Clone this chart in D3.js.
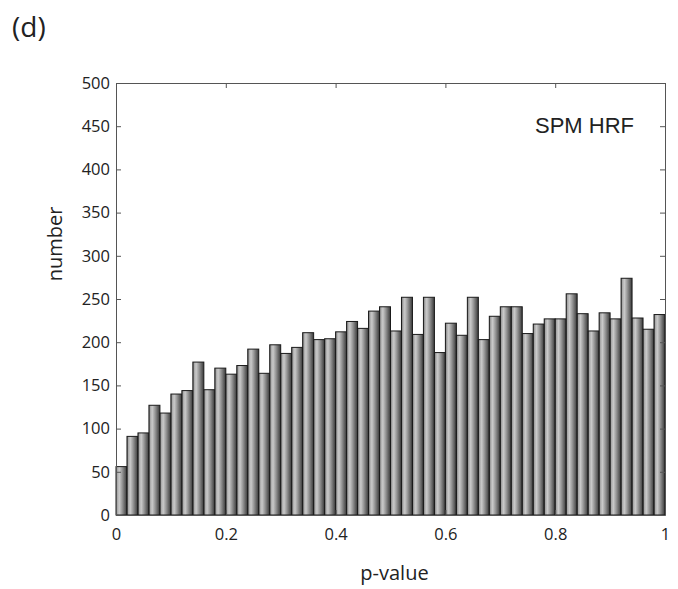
<!DOCTYPE html>
<html>
<head>
<meta charset="utf-8">
<script src="https://cdn.jsdelivr.net/npm/d3@7"></script>
<style>
  html, body { margin: 0; padding: 0; background: #fff; }
  svg { display: block; }
  text { font-family: "Open Sans", "Noto Sans", sans-serif; fill: #222; }
</style>
</head>
<body>
<script>
const binWidth = 0.02;
const binStarts = d3.range(50).map(i => +(i * binWidth).toFixed(2));
const counts = [56,91,95,127,118,140,144,177,145,170,163,173,192,164,197,187,194,211,203,204,212,224,216,236,241,213,252,209,252,188,222,208,252,203,230,241,241,210,221,227,227,256,233,213,234,227,274,228,215,232];
const xTicks = [0, 0.2, 0.4, 0.6, 0.8, 1];
const yTicks = [0,50,100,150,200,250,300,350,400,450,500];
const panelLabel = "(d)";
const legendText = "SPM HRF";
const xLabel = "p-value";
const yLabel = "number";

const W = 678, H = 589;
const svg = d3.select("body").append("svg").attr("width", W).attr("height", H);

const x = d3.scaleLinear().domain([0, 1]).range([116, 665]);
const y = d3.scaleLinear().domain([0, 500]).range([515, 83]);

const defs = svg.append("defs");
const grad = defs.append("linearGradient").attr("id", "barGrad")
  .attr("x1", "0%").attr("x2", "100%").attr("y1", "0%").attr("y2", "0%");
[["0%", "#555"], ["12%", "#a8a8a8"], ["30%", "#cacaca"], ["55%", "#999"], ["100%", "#383838"]]
  .forEach(([o, c]) => grad.append("stop").attr("offset", o).attr("stop-color", c));

svg.append("g").selectAll("rect").data(counts).join("rect")
  .attr("x", (d, i) => x(binStarts[i]))
  .attr("width", (d, i) => x(binStarts[i] + binWidth) - x(binStarts[i]))
  .attr("y", d => y(d))
  .attr("height", d => y(0) - y(d))
  .attr("fill", "url(#barGrad)")
  .attr("stroke", "#1a1a1a")
  .attr("stroke-width", 1);

const axisColor = "#555";
function styleAxis(g) {
  g.selectAll(".domain").attr("stroke", axisColor);
  g.selectAll(".tick line").attr("stroke", axisColor);
  g.selectAll(".tick text").style("font-size", "16.5px").attr("fill", "#222");
}

// left axis
svg.append("g").attr("transform", `translate(${x(0)},0)`)
  .call(d3.axisLeft(y).tickValues(yTicks).tickFormat(d3.format("d")).tickSizeInner(-5).tickSizeOuter(0).tickPadding(6))
  .call(styleAxis);
// right axis
svg.append("g").attr("transform", `translate(${x(1)},0)`)
  .call(d3.axisRight(y).tickValues(yTicks).tickFormat("").tickSizeInner(-5).tickSizeOuter(0))
  .call(styleAxis);
// bottom axis
svg.append("g").attr("transform", `translate(0,${y(0)})`)
  .call(d3.axisBottom(x).tickValues(xTicks).tickFormat(d => d === 0 || d === 1 ? d3.format("d")(d) : d3.format(".1f")(d)).tickSizeInner(-5).tickSizeOuter(0).tickPadding(13))
  .call(styleAxis);
// top axis
svg.append("g").attr("transform", `translate(0,${y(500)})`)
  .call(d3.axisTop(x).tickValues(xTicks).tickFormat("").tickSizeInner(-5).tickSizeOuter(0))
  .call(styleAxis);

svg.append("text").attr("x", 12).attr("y", 37).style("font-size", "28px").text(panelLabel);

svg.append("text").attr("x", 634).attr("y", 133).attr("text-anchor", "end")
  .style("font-family", "'Liberation Sans', Arial, sans-serif").style("font-size", "22px").attr("fill", "#111")
  .text(legendText);

svg.append("text").attr("x", x(0.5) + 4).attr("y", 580).attr("text-anchor", "middle")
  .style("font-size", "20px").text(xLabel);

svg.append("text").attr("transform", "translate(62,244) rotate(-90)").attr("text-anchor", "middle")
  .style("font-size", "20px").text(yLabel);
</script>
</body>
</html>
